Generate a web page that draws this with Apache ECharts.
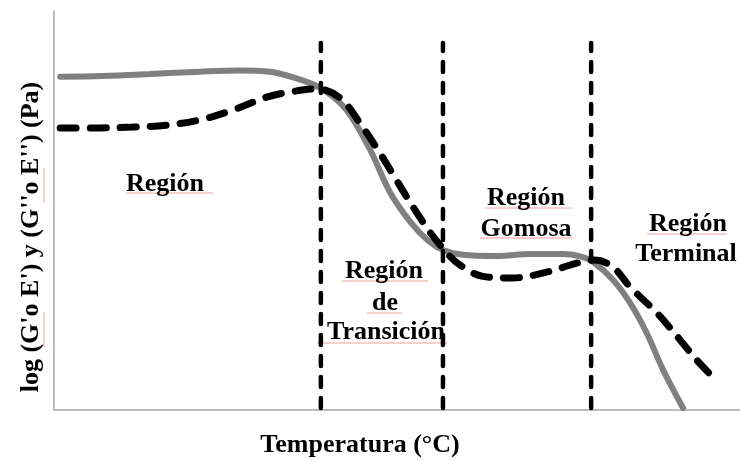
<!DOCTYPE html>
<html>
<head>
<meta charset="utf-8">
<script src="https://cdn.jsdelivr.net/npm/echarts@6/dist/echarts.min.js"></script>
<style>html,body{margin:0;padding:0;background:#fff}#c{width:740px;height:460px}</style>
</head>
<body>
<div id="c"></div>
<script>
// Temperature (arbitrary 0-100 scale) and log modulus (arbitrary 0-100 scale)
const tempStorage = [0.9, 7.0, 14.0, 21.3, 27.0, 31.5, 35.0, 38.8, 42.5, 46.0, 49.0, 52.0, 54.5, 56.7, 59.6, 64.6, 69.4, 74.2, 76.7, 78.6, 81.5, 84.0, 86.4, 88.8, 91.7];
const storageModulus = [83.5, 83.7, 84.2, 84.8, 85.1, 84.8, 83.3, 80.7, 75.5, 65.5, 54.5, 47.0, 42.5, 40.1, 38.9, 38.6, 39.1, 39.1, 38.5, 37.1, 32.6, 26.8, 19.3, 10.0, 0.5];
const tempLoss = [0.9, 6.7, 11.5, 16.5, 21.3, 26.1, 31.0, 34.4, 38.3, 41.7, 44.6, 47.5, 50.0, 52.3, 54.8, 57.3, 59.2, 62.5, 66.9, 71.9, 76.2, 78.9, 81.5, 84.0, 87.9, 91.3, 93.7, 96.4];
const lossModulus = [70.7, 70.7, 70.9, 71.4, 72.7, 75.2, 78.4, 79.7, 80.5, 78.2, 71.9, 64.4, 57.4, 51.0, 44.6, 39.3, 36.3, 33.5, 33.1, 34.6, 36.8, 37.6, 35.8, 30.8, 24.3, 17.5, 12.5, 7.6];
const regionBounds = [38.9, 56.7, 78.3];
const boundRange = [0.5, 92];

const zip = (a, b) => a.map((v, i) => [v, b[i]]);
const FONT = '"Liberation Serif", "Times New Roman", serif';
const txt = (x, y, text, extra) => Object.assign({
  type: 'text', x: x, y: y, z: 0,
  style: { text: text, fontFamily: FONT, fontWeight: 'bold', fontSize: 26, fill: '#000', textAlign: 'center', textVerticalAlign: 'middle' }
}, extra || {});
const ul = (x1, x2, y) => ({ type: 'line', z: 0, shape: { x1: x1, y1: y, x2: x2, y2: y }, style: { stroke: '#f2a0a0', lineWidth: 1 } });
const vul = (x, y1, y2) => ({ type: 'line', z: 0, shape: { x1: x, y1: y1, x2: x, y2: y2 }, style: { stroke: '#f2a0a0', lineWidth: 1 } });

const boundSeries = regionBounds.map(b => ({
  type: 'line', data: [[b, boundRange[0]], [b, boundRange[1]]], showSymbol: false, silent: true, z: 4,
  lineStyle: { color: '#000', width: 4.5, type: [10, 11], cap: 'round' }
}));

const chart = echarts.init(document.getElementById('c'));
chart.setOption({
  animation: false,
  grid: { left: 54, top: 11, right: 0, bottom: 50 },
  xAxis: { type: 'value', min: 0, max: 100, axisLine: { show: true, lineStyle: { color: '#a6a6a6', width: 1.5 } }, axisTick: { show: false }, axisLabel: { show: false }, splitLine: { show: false } },
  yAxis: { type: 'value', min: 0, max: 100, axisLine: { show: true, lineStyle: { color: '#a6a6a6', width: 1.5 } }, axisTick: { show: false }, axisLabel: { show: false }, splitLine: { show: false } },
  series: [
    { type: 'line', data: zip(tempStorage, storageModulus), smooth: 0.35, showSymbol: false, z: 2,
      lineStyle: { color: '#808080', width: 6, cap: 'round' } },
    { type: 'line', data: zip(tempLoss, lossModulus), smooth: 0.35, showSymbol: false, z: 3,
      lineStyle: { color: '#000', width: 7, type: [16, 14], cap: 'round' } }
  ].concat(boundSeries),
  graphic: [
    ul(126, 213, 193), ul(342, 428, 281), ul(367, 402, 313), ul(317, 447, 343),
    ul(485, 572, 208), ul(480, 572, 238), ul(647, 727, 234),
    vul(44, 312, 347), vul(44, 168, 203),
    txt(165, 184, 'Región'),
    txt(384, 271, 'Región'), txt(385, 303, 'de'), txt(386, 332, 'Transición'),
    txt(526, 198, 'Región'), txt(526, 229, 'Gomosa'),
    txt(688, 224, 'Región'), txt(686, 254, 'Terminal'),
    txt(360, 445, 'Temperatura (°C)'),
    txt(31, 237, "log (G'o E') y (G''o E'') (Pa)", { rotation: Math.PI / 2 })
  ]
});
</script>
</body>
</html>
